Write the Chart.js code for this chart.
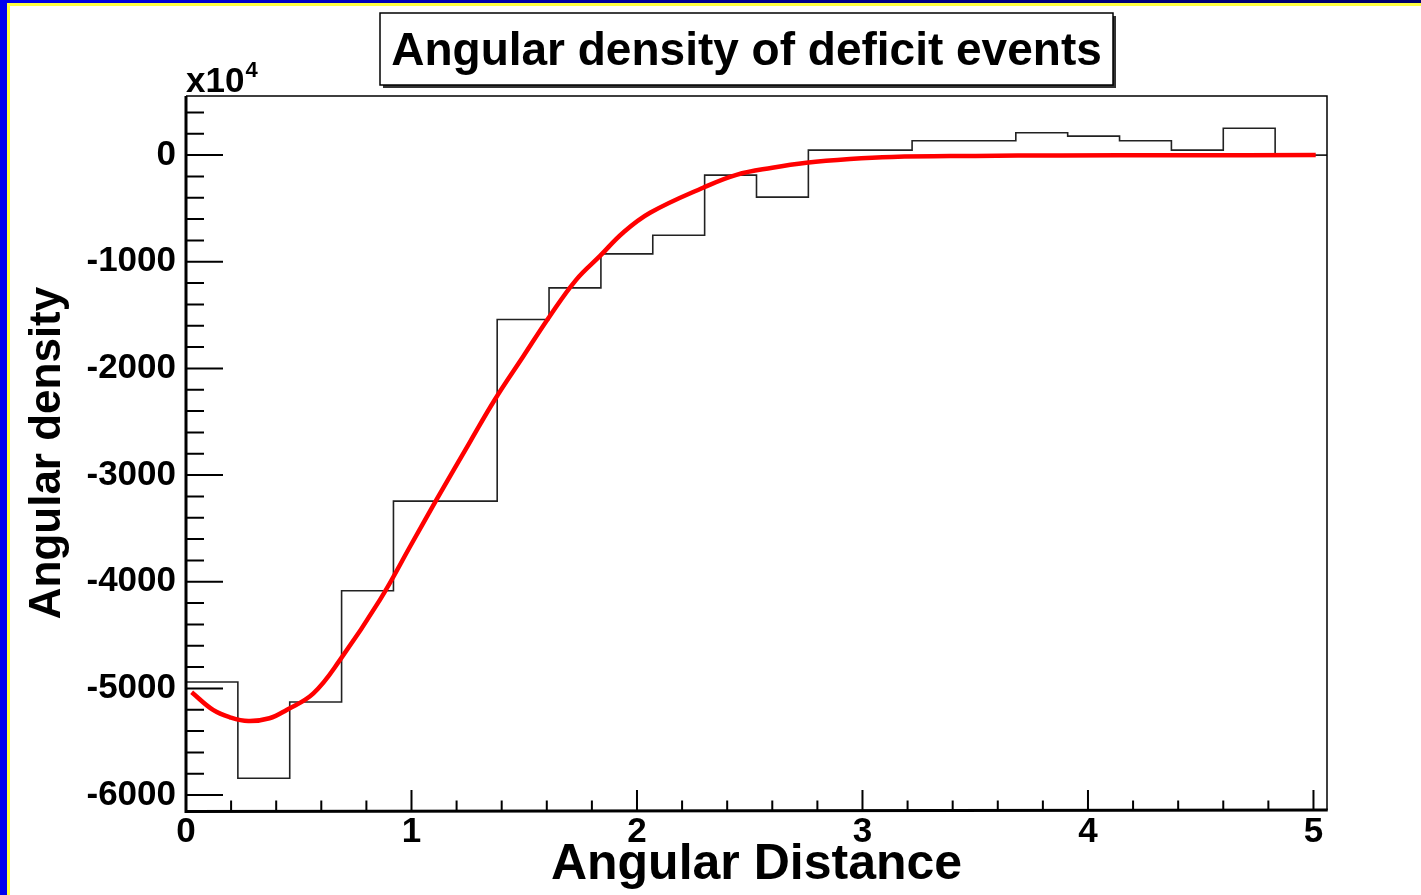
<!DOCTYPE html>
<html>
<head>
<meta charset="utf-8">
<title>Angular density of deficit events</title>
<script src="https://cdn.jsdelivr.net/npm/chart.js@4.4.1/dist/chart.umd.min.js"></script>
<style>
  html, body { margin: 0; padding: 0; background: #fff; }
  #wrap { width: 1421px; height: 895px; }
</style>
</head>
<body>
<div id="wrap"><canvas id="myChart" width="1421" height="895"></canvas></div>
<script>
// histogram: left bin edges (last entry is the upper edge of the last bin)
var binEdges = [0, 0.23, 0.46, 0.69, 0.92, 1.15, 1.38, 1.61, 1.84, 2.07, 2.30,
                2.53, 2.76, 2.99, 3.22, 3.45, 3.68, 3.91, 4.14, 4.37, 4.60, 4.83, 5.06];
var binValues = [-4940, -5843, -5127, -4085, -3244, -3244, -1542, -1245, -926, -751, -188,
                 -394, 47, 47, 135, 135, 210, 178, 135, 47, 251, 0];

// fitted curve
var fitX = [0.025, 0.12, 0.195, 0.276, 0.37, 0.446, 0.565, 0.683, 0.86, 1.0, 1.111,
            1.259, 1.37, 1.496, 1.613, 1.731, 1.835, 1.938, 2.058, 2.293, 2.441,
            2.6, 2.751, 2.944, 3.13, 3.5, 3.88, 4.4, 5.01];
var fitY = [-5036, -5202, -5271, -5306, -5280, -5202, -5046, -4733, -4170, -3646, -3231,
            -2690, -2291, -1886, -1511, -1167, -948, -728, -541, -306, -185,
            -118, -71, -36, -17, -8, -3, -1, 0];

var xTicks = [0, 1, 2, 3, 4, 5];
var yTicks = [0, -1000, -2000, -3000, -4000, -5000, -6000];

var titleText = 'Angular density of deficit events';
var xTitle = 'Angular Distance';
var yTitle = 'Angular density';

var FONT = "'Liberation Sans', Arial, Helvetica, sans-serif";
Chart.defaults.font.family = FONT;
Chart.defaults.color = '#000';

var histData = binValues.map(function (v, i) { return { x: binEdges[i], y: v }; });
histData.push({ x: binEdges[binEdges.length - 1], y: binValues[binValues.length - 1] });

var fitData = fitX.map(function (x, i) { return { x: x, y: fitY[i] }; });

// ROOT style frame, inward ticks, title pave and exponent label
var rootStyle = {
    id: 'rootStyle',
    beforeDraw: function (chart) {
        var ctx = chart.ctx;
        ctx.save();
        ctx.fillStyle = '#fff';
        ctx.fillRect(0, 0, chart.width, chart.height);
        // slide border
        var g = ctx.createLinearGradient(0, 0, chart.width, 0);
        g.addColorStop(0, '#0000e8');
        g.addColorStop(0.5, '#000090');
        g.addColorStop(1, '#00006a');
        ctx.fillStyle = g;
        ctx.fillRect(0, 0, chart.width, 3);
        ctx.fillStyle = '#ffff40';
        ctx.fillRect(7, 3, chart.width - 7, 3);
        ctx.fillRect(7, 3, 3, chart.height - 3);
        ctx.fillStyle = '#0000ee';
        ctx.fillRect(0, 0, 7, chart.height);
        ctx.restore();
    },
    afterDraw: function (chart) {
        var ctx = chart.ctx;
        var a = chart.chartArea;
        var xs = chart.scales.x, ys = chart.scales.y;
        ctx.save();
        ctx.strokeStyle = '#000';
        ctx.lineCap = 'butt';

        // frame
        ctx.lineWidth = 1.5;
        ctx.beginPath();
        ctx.moveTo(a.left, a.top); ctx.lineTo(a.right, a.top); ctx.lineTo(a.right, a.bottom);
        ctx.stroke();
        ctx.lineWidth = 3;
        ctx.beginPath();
        ctx.moveTo(a.left, a.top); ctx.lineTo(a.left, a.bottom + 1.5); ctx.lineTo(a.right + 0.75, a.bottom);
        ctx.stroke();

        // ticks
        ctx.lineWidth = 2;
        ctx.beginPath();
        var v, p, len;
        for (v = -6000; v <= ys.max; v += 200) {
            p = ys.getPixelForValue(v);
            len = (v % 1000 === 0) ? 37 : 18;
            ctx.moveTo(a.left, p); ctx.lineTo(a.left + len, p);
        }
        for (var k = 0; k <= 25; k++) {
            v = k * 0.2;
            if (v > xs.max) break;
            p = xs.getPixelForValue(v);
            len = (k % 5 === 0) ? 20 : 9.5;
            ctx.moveTo(p, a.bottom); ctx.lineTo(p, a.bottom - len);
        }
        ctx.stroke();

        // title pave with shadow
        var bx = 380, by = 13, bw = 733, bh = 72;
        ctx.fillStyle = '#333';
        ctx.fillRect(bx + 3, by + 3, bw, bh);
        ctx.fillStyle = '#fff';
        ctx.fillRect(bx, by, bw, bh);
        ctx.lineWidth = 1.5;
        ctx.strokeRect(bx, by, bw, bh);
        ctx.fillStyle = '#000';
        ctx.font = 'bold 46px ' + FONT;
        ctx.textAlign = 'center';
        ctx.textBaseline = 'alphabetic';
        ctx.fillText(titleText, bx + bw / 2, 65);

        // exponent
        ctx.textAlign = 'left';
        ctx.font = 'bold 35px ' + FONT;
        ctx.fillText('x10', a.left, 92);
        var w = ctx.measureText('x10').width;
        ctx.font = 'bold 22px ' + FONT;
        ctx.fillText('4', a.left + w + 1, 77);
        ctx.restore();
    }
};

new Chart(document.getElementById('myChart'), {
    type: 'line',
    data: {
        datasets: [
            {
                label: 'fit',
                data: fitData,
                borderColor: '#ff0000',
                borderWidth: 4.5,
                pointRadius: 0,
                fill: false,
                tension: 0.4,
                order: 0
            },
            {
                label: 'hist',
                data: histData,
                borderColor: '#222',
                borderWidth: 1.6,
                pointRadius: 0,
                fill: false,
                stepped: true,
                order: 1
            }
        ]
    },
    options: {
        responsive: false,
        animation: false,
        layout: { padding: { left: 8, right: 94, top: 96, bottom: 0 } },
        plugins: {
            legend: { display: false },
            title: { display: false },
            tooltip: { enabled: false }
        },
        scales: {
            x: {
                type: 'linear',
                min: 0,
                max: 5.06,
                afterFit: function (s) { s.height = 85; },
                grid: { display: false, drawTicks: false },
                border: { display: false },
                afterBuildTicks: function (s) { s.ticks = xTicks.map(function (t) { return { value: t }; }); },
                ticks: {
                    padding: 1,
                    maxRotation: 0,
                    autoSkip: false,
                    font: { size: 35, weight: 'bold', lineHeight: 1.2 },
                    callback: function (v) { return String(v); }
                },
                title: {
                    display: true,
                    text: xTitle,
                    font: { size: 50, weight: 'bold', lineHeight: 1 },
                    padding: { top: 0, bottom: 5 }
                }
            },
            y: {
                type: 'linear',
                min: -6140,
                max: 554,
                afterFit: function (s) { s.width = 178; },
                grid: { display: false, drawTicks: false },
                border: { display: false },
                afterBuildTicks: function (s) { s.ticks = yTicks.map(function (t) { return { value: t }; }); },
                ticks: {
                    padding: 10,
                    autoSkip: false,
                    font: { size: 35, weight: 'bold', lineHeight: 1.2 },
                    callback: function (v) { return String(v); }
                },
                title: {
                    display: true,
                    text: yTitle,
                    font: { size: 44, weight: 'bold', lineHeight: 1 },
                    padding: { top: 18, bottom: 0 }
                }
            }
        }
    },
    plugins: [rootStyle]
});
</script>
</body>
</html>
